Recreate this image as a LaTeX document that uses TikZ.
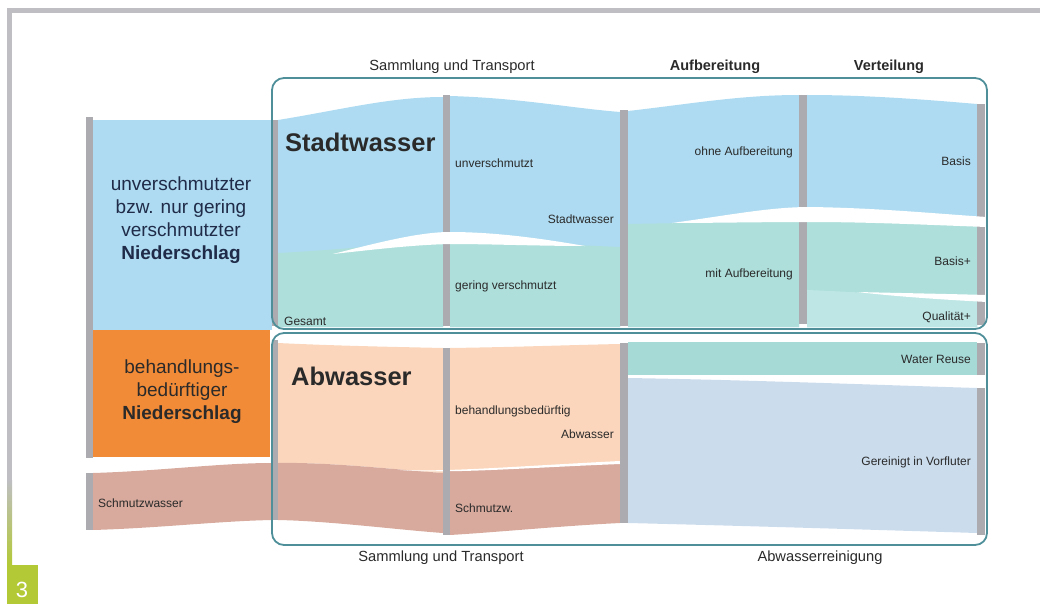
\documentclass[tikz,border=0pt]{standalone}
\usepackage{fontspec}
\setmainfont{Liberation Sans}
\definecolor{blu}{HTML}{AEDBF1}
\definecolor{tea}{HTML}{AEDFDB}
\definecolor{tea2}{HTML}{BDE6E4}
\definecolor{reuse}{HTML}{A6DAD7}
\definecolor{pch}{HTML}{FBD6BC}
\definecolor{brn}{HTML}{D7AA9D}
\definecolor{bgr}{HTML}{CBDCEC}
\definecolor{org}{HTML}{F28B37}
\definecolor{bar}{HTML}{ABABB0}
\definecolor{frame}{HTML}{4F8F99}
\definecolor{txt}{HTML}{2A2A2A}
\definecolor{navy}{HTML}{1F2B48}
\definecolor{lime}{HTML}{B3C935}
\definecolor{edge}{HTML}{BEBEC3}
\tikzset{
  lbl/.style={font=\fontsize{12}{14}\selectfont, text=txt, inner sep=0pt},
  hdr/.style={font=\fontsize{14.7}{17}\selectfont, text=txt, inner sep=0pt},
  hdrb/.style={font=\bfseries\fontsize{14.5}{17}\selectfont, text=txt, inner sep=0pt},
  big/.style={font=\bfseries\fontsize{25.5}{30}\selectfont, text=txt, inner sep=0pt},
  side/.style={font=\fontsize{19}{23}\selectfont, text=navy, align=center, inner sep=0pt},
  grayb/.style={fill=bar},
  panel/.style={draw=frame, line width=1.8pt, rounded corners=12pt},
  wisp/.style={fill=white}
}
\begin{document}
\begin{tikzpicture}[x=1pt,y=-1pt]
\useasboundingbox (0,0) rectangle (1040,604);
% outer frame strip
\fill[edge] (7,8) rectangle (1040,13);
\fill[edge] (7,8) rectangle (12,480);
\shade[top color=edge, bottom color=lime] (7,480) rectangle (12,566);
\fill[lime] (7,565) rectangle (38,604);
\node[text=white, font=\fontsize{22}{24}\selectfont, inner sep=0pt] (num) at (22,590) {3};

% left column
\fill[grayb] (86,117) rectangle (93,458);
\fill[blu] (93,120) rectangle (272,330);
\fill[org] (93,330) rectangle (270,457);
\fill[brn] (93,473) .. controls (160,471) and (220,463) .. (272,463) -- (272,520) .. controls (220,521) and (160,528) .. (93,530) -- cycle;
\fill[grayb] (86,473) rectangle (93,530);
\node[side] (niedA) at (181,220) {unverschmutzter\\bzw. nur gering\\verschmutzter\\\textbf{Niederschlag}};
\node[side, text=txt] (niedB) at (182,392) {behandlungs-\\bedürftiger\\\textbf{Niederschlag}};
\node[lbl, anchor=west] (schmutzL) at (98,503) {Schmutzwasser};

% upper panel flows
\fill[blu] (278,120) .. controls (340,110) and (390,97) .. (443,97) -- (443,327) -- (278,327) -- cycle;
\fill[blu] (450,96) .. controls (520,98) and (570,108) .. (620,112) -- (620,327) -- (450,327) -- cycle;
\fill[blu] (628,111) .. controls (690,104) and (740,95) .. (799,95) -- (799,327) -- (628,327) -- cycle;
\fill[blu] (807,95) .. controls (870,95) and (930,100) .. (977,104) -- (977,327) -- (807,327) -- cycle;
\fill[tea] (278,253) .. controls (340,250) and (400,243) .. (443,241) -- (443,327) -- (278,327) -- cycle;
\fill[tea] (450,241) .. controls (520,242) and (570,245) .. (620,247) -- (620,327) -- (450,327) -- cycle;
\fill[tea] (628,224) -- (799,221) -- (799,327) -- (628,327) -- cycle;
\fill[tea] (807,221) .. controls (880,222) and (930,224) .. (977,226) -- (977,327) -- (807,327) -- cycle;
\fill[tea2] (807,290) .. controls (880,293) and (930,297) .. (977,300) -- (977,327) -- (807,327) -- cycle;
% upper bars
\fill[grayb] (272,120) rectangle (278,326);
\fill[grayb] (443,95) rectangle (450,326);
\fill[grayb] (620,110) rectangle (628,326);
\fill[grayb] (799,95) rectangle (807,324);
\fill[grayb] (977,104) rectangle (985,325);
% upper wisps
\fill[wisp] (333,254) .. controls (380,242) and (420,232) .. (450,232) .. controls (500,232) and (550,240) .. (585,246) .. controls (540,246) and (490,244) .. (450,244) .. controls (410,245) and (370,250) .. (333,254) -- cycle;
\fill[wisp] (672,223) .. controls (730,215) and (770,207) .. (810,207) .. controls (880,208) and (940,214) .. (987,217) -- (987,227) .. controls (930,225) and (870,222) .. (810,222) .. controls (760,222) and (710,223) .. (672,223) -- cycle;
\fill[wisp] (857,292) .. controls (900,293) and (950,294) .. (987,295) -- (987,302) .. controls (950,300) and (900,297) .. (857,292) -- cycle;

% lower panel flows
\fill[pch] (278,343) .. controls (340,346) and (400,347) .. (443,348) -- (443,473) .. controls (400,470) and (330,462) .. (278,463) -- cycle;
\fill[brn] (278,463) .. controls (330,462) and (400,470) .. (443,473) -- (443,533) .. controls (400,530) and (330,521) .. (278,520) -- cycle;
\fill[pch] (450,348) .. controls (520,347) and (570,345) .. (620,344) -- (620,463) .. controls (560,465) and (500,469) .. (450,471) -- cycle;
\fill[brn] (450,471) .. controls (500,469) and (560,465) .. (620,463) -- (620,523) .. controls (560,526) and (500,532) .. (450,535) -- cycle;
\fill[wisp] (400,470) .. controls (450,472) and (520,466) .. (620,461) -- (620,464) .. controls (520,468) and (450,474) .. (400,470) -- cycle;
\fill[reuse] (628,342) rectangle (977,375);
\fill[bgr] (628,378) .. controls (750,380) and (880,385) .. (977,388) -- (977,533) .. controls (880,530) and (750,526) .. (628,523) -- cycle;
% lower bars
\fill[grayb] (272,340) rectangle (278,520);
\fill[grayb] (443,348) rectangle (450,535);
\fill[grayb] (620,343) rectangle (628,523);
\fill[grayb] (977,343) rectangle (985,375);
\fill[grayb] (977,388) rectangle (985,535);

% panels
\draw[panel] (272,78) rectangle (987,329);
\draw[panel] (272,333) rectangle (987,545);

% headers
\node[hdr] (hA) at (452,67) {Sammlung und Transport};
\node[hdrb] (hB) at (715,67) {Aufbereitung};
\node[hdrb] (hC) at (889,67) {Verteilung};
\node[hdr] (hD) at (441,558) {Sammlung und Transport};
\node[hdr] (hE) at (820,558) {Abwasserreinigung};

% upper labels
\node[big, anchor=west] (stadt) at (285,142) {Stadtwasser};
\node[lbl, anchor=west] (unv) at (455,163) {unverschmutzt};
\node[lbl, anchor=east] (stadt2) at (614,219) {Stadtwasser};
\node[lbl, anchor=west] (ger) at (455,286) {gering verschmutzt};
\node[lbl, anchor=west] (ges) at (284,321) {Gesamt};
\node[lbl, anchor=east] (ohne) at (793,152) {ohne Aufbereitung};
\node[lbl, anchor=east] (mit) at (793,274) {mit Aufbereitung};
\node[lbl, anchor=east] (bas) at (971,161) {Basis};
\node[lbl, anchor=east] (basp) at (971,261) {Basis+};
\node[lbl, anchor=east] (qual) at (971,317) {Qualität+};

% lower labels
\node[big, anchor=west] (abw) at (291,376) {Abwasser};
\node[lbl, anchor=west] (beh) at (455,411) {behandlungsbedürftig};
\node[lbl, anchor=east] (abw2) at (614,434) {Abwasser};
\node[lbl, anchor=west] (schm) at (455,508) {Schmutzw.};
\node[lbl, anchor=east] (reuseL) at (971,359) {Water Reuse};
\node[lbl, anchor=east] (ger2) at (971,462) {Gereinigt in Vorfluter};
\end{tikzpicture}
\end{document}
